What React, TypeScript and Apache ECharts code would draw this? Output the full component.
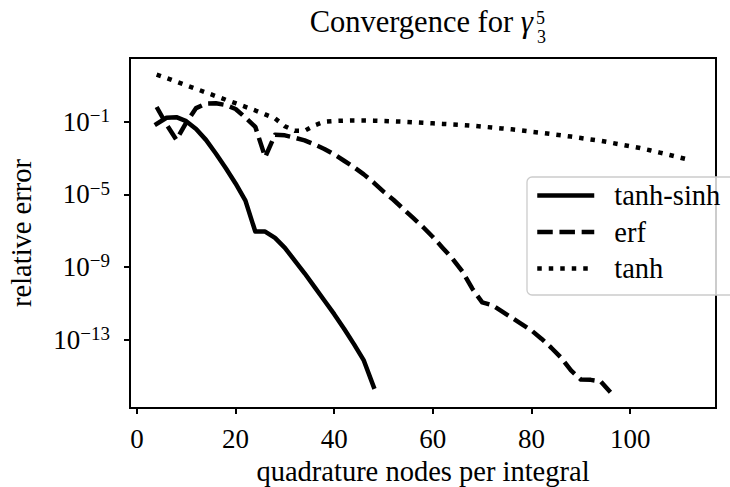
import React, { useEffect, useRef } from "react";
import * as echarts from "echarts";

// quadrature nodes per integral (x) and log10(relative error) (y)
const nodesTanhSinh = [4, 6, 8, 10, 12, 14, 16, 18, 20, 22, 24, 26, 28, 30, 32, 34, 36, 38, 40, 42, 44, 46, 48];
const log10ErrTanhSinh = [-1.12, -0.78, -0.75, -0.97, -1.4, -2.0, -2.75, -3.55, -4.4, -5.35, -7.05, -7.05, -7.4, -7.95, -8.65, -9.35, -10.1, -10.85, -11.6, -12.4, -13.25, -14.15, -15.6];

const nodesErf = [4, 6, 8, 10, 12, 14, 16, 18, 20, 22, 24, 26, 28, 30, 32, 34, 36, 38, 40, 42, 44, 46, 48, 50, 52, 54, 56, 58, 60, 62, 64, 66, 68, 70, 72, 74, 76, 78, 80, 82, 84, 86, 88, 90, 92, 94, 96];
const log10ErrErf = [-0.19, -1.15, -2.0, -1.05, -0.25, 0.0, 0.02, -0.08, -0.3, -0.77, -1.28, -2.95, -1.72, -1.75, -1.88, -2.03, -2.25, -2.5, -2.8, -3.15, -3.5, -3.9, -4.35, -4.85, -5.3, -5.8, -6.3, -6.8, -7.35, -7.95, -8.55, -9.25, -10.2, -10.95, -11.1, -11.45, -11.8, -12.15, -12.5, -12.95, -13.45, -14.0, -14.7, -15.2, -15.22, -15.3, -15.9];

const nodesTanh = [4, 6, 8, 10, 12, 14, 16, 18, 20, 22, 24, 26, 28, 30, 32, 34, 36, 38, 40, 42, 44, 46, 48, 50, 52, 54, 56, 58, 60, 62, 64, 66, 68, 70, 72, 74, 76, 78, 80, 82, 84, 86, 88, 90, 92, 94, 96, 98, 100, 102, 104, 106, 108, 110, 112];
const log10ErrTanh = [1.6, 1.41, 1.21, 1.01, 0.81, 0.61, 0.41, 0.21, 0.02, -0.18, -0.38, -0.6, -0.82, -1.25, -1.5, -1.5, -1.2, -1.0, -0.96, -0.94, -0.93, -0.93, -0.94, -0.96, -0.98, -1.0, -1.03, -1.06, -1.09, -1.12, -1.15, -1.18, -1.22, -1.27, -1.32, -1.37, -1.42, -1.48, -1.55, -1.61, -1.68, -1.75, -1.82, -1.9, -1.98, -2.05, -2.15, -2.25, -2.35, -2.45, -2.57, -2.7, -2.83, -2.97, -3.1];

const seriesNames = ["tanh-sinh", "erf", "tanh"];
const xTicks = [0, 20, 40, 60, 80, 100];
const yTickExponents = [-13, -9, -5, -1];

const FONT = '"Liberation Serif", "Times New Roman", serif';
const LW = 4.5;
const DASHED = [15.5, 6.7];
const DOTTED = [4.5, 7.0];

export default function App() {
  const ref = useRef<HTMLDivElement>(null);
  useEffect(() => {
    document.body.style.margin = "0";
    if (!ref.current) return;
    const chart = echarts.init(ref.current, null, { renderer: "svg" });
    const mk = (name: string, xs: number[], ys: number[], type: any, cap: string) => ({
      type: "line",
      name,
      data: xs.map((x, i) => [x, ys[i]]),
      symbol: "none",
      showSymbol: false,
      itemStyle: { color: "#000" },
      lineStyle: { color: "#000", width: LW, type, cap, join: "round" },
      z: 3,
    });
    const legendTypes: any[] = ["solid", DASHED, DOTTED];
    chart.setOption({
      animation: false,
      backgroundColor: "#fff",
      textStyle: { fontFamily: FONT },
      grid: {
        left: 130,
        right: 14,
        top: 58,
        bottom: 79,
        containLabel: false,
        outerBoundsMode: "none",
        show: true,
        borderColor: "#000",
        borderWidth: 2,
        backgroundColor: "transparent",
      },
      xAxis: {
        type: "value",
        min: -1.4,
        max: 117.4,
        name: "quadrature nodes per integral",
        nameLocation: "middle",
        nameGap: 46,
        nameTextStyle: { fontFamily: FONT, fontSize: 28.5, color: "#000" },
        axisLine: { show: true, onZero: false, lineStyle: { color: "#000", width: 2 } },
        axisTick: { show: true, length: 6, lineStyle: { color: "#000", width: 2 }, customValues: xTicks },
        axisLabel: { fontFamily: FONT, fontSize: 27, color: "#000", margin: 17, customValues: xTicks },
        splitLine: { show: false },
      },
      yAxis: {
        type: "value",
        min: -16.77,
        max: 2.51,
        name: "relative error",
        nameLocation: "middle",
        nameRotate: 90,
        nameGap: 94,
        nameTextStyle: { fontFamily: FONT, fontSize: 28.5, color: "#000" },
        axisLine: { show: true, onZero: false, lineStyle: { color: "#000", width: 2 } },
        axisTick: { show: true, length: 6, lineStyle: { color: "#000", width: 2 }, customValues: yTickExponents },
        axisLabel: {
          fontFamily: FONT,
          color: "#000",
          margin: 20,
          customValues: yTickExponents,
          formatter: (v: number) => `{b|10}{s|\u2212${Math.abs(v)}}`,
          rich: {
            b: { fontFamily: FONT, fontSize: 27, lineHeight: 31, color: "#000" },
            s: { fontFamily: FONT, fontSize: 19, lineHeight: 21, verticalAlign: "top", color: "#000" },
          },
        },
        splitLine: { show: false },
      },
      legend: {
        orient: "vertical",
        left: 527,
        top: 177,
        padding: [3, 24, 11, 8],
        itemWidth: 57,
        itemHeight: 14,
        itemGap: 5.5,
        selectedMode: false,
        backgroundColor: "rgba(255,255,255,0.8)",
        borderColor: "#cccccc",
        borderWidth: 1.3,
        borderRadius: 5,
        itemStyle: { opacity: 0 },
        textStyle: { fontFamily: FONT, fontSize: 28.5, color: "#000", lineHeight: 31, padding: [0, 24, 0, 15] },
        data: seriesNames.map((name, i) => ({
          name,
          itemStyle: { opacity: 0 },
          lineStyle: { color: "#000", width: LW, type: legendTypes[i], cap: "butt" },
        })),
      },
      graphic: [
        {
          type: "text",
          x: 533,
          y: 21.5,
          style: {
            text: "Convergence for {g|\u03b3}",
            font: `30.5px ${FONT}`,
            fill: "#000",
            textAlign: "right",
            textVerticalAlign: "middle",
            rich: { g: { fontFamily: FONT, fontSize: 31, fontStyle: "italic", fill: "#000" } },
          },
        },
        {
          type: "text",
          x: 536,
          y: 17.5,
          style: { text: "5", font: `18px ${FONT}`, fill: "#000", textAlign: "left", textVerticalAlign: "middle" },
        },
        {
          type: "text",
          x: 537,
          y: 36.5,
          style: { text: "3", font: `18px ${FONT}`, fill: "#000", textAlign: "left", textVerticalAlign: "middle" },
        },
      ],
      series: [
        mk(seriesNames[0], nodesTanhSinh, log10ErrTanhSinh, "solid", "square"),
        mk(seriesNames[1], nodesErf, log10ErrErf, DASHED, "butt"),
        mk(seriesNames[2], nodesTanh, log10ErrTanh, DOTTED, "butt"),
      ],
    });
    return () => chart.dispose();
  }, []);
  return <div ref={ref} style={{ width: 730, height: 487 }} />;
}
